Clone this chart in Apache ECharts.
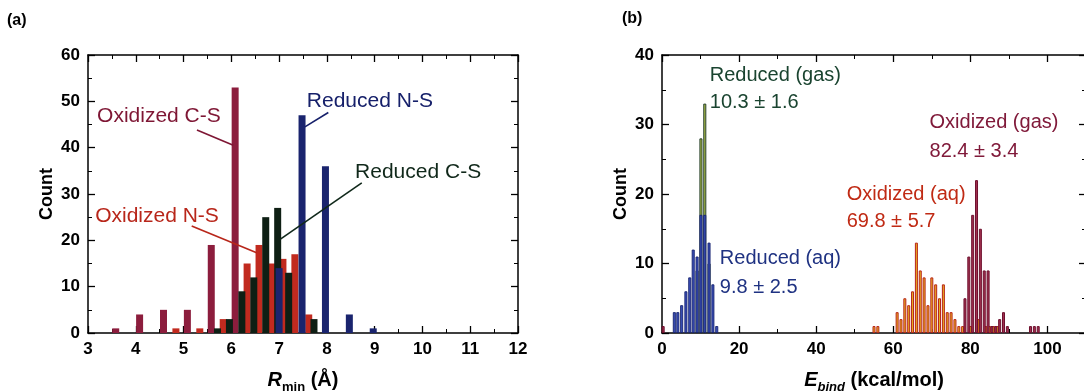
<!DOCTYPE html>
<html><head><meta charset="utf-8">
<script src="https://cdn.jsdelivr.net/npm/echarts@6/dist/echarts.min.js"></script>
<style>html,body{margin:0;padding:0;background:#fff}#c{width:1084px;height:392px}</style>
</head><body><div id="c"></div>
<script>
// ---------- Panel (a): R_min histogram ----------
const aOxCS_x  = [3.58, 4.08, 4.58, 5.08, 5.58, 6.08];
const aOxCS_y  = [1, 4, 5, 5, 19, 53];
const aOxNS_x  = [4.84, 5.34, 5.83, 6.33, 6.58, 6.84, 7.08, 7.33, 7.62];
const aOxNS_y  = [1, 1, 3, 15, 19, 15, 16, 17, 4];
const aRedCS_x = [5.71, 5.96, 6.22, 6.47, 6.72, 6.97, 7.2, 7.73];
const aRedCS_y = [1, 3, 9, 12, 25, 27, 13, 3];
const aRedNS_x = [7.0, 7.48, 7.97, 8.47, 8.97];
const aRedNS_y = [14, 47, 36, 4, 1];

// annotation labels (text, x, y) and leader lines [x1,y1,x2,y2]
const aLabels = [
  ['Oxidized C-S', 3.19, 46.7, '#7E1634'],
  ['Reduced N-S', 7.58, 50.1, '#16206A'],
  ['Reduced C-S', 8.59, 34.8, '#10281A'],
  ['Oxidized N-S', 3.15, 25.3, '#B8261A']
];
const aLeaders = [
  [5.28, 43.8, 6.04, 40.5, '#7E1634'],
  [8.03, 47.6, 7.54, 44.5, '#16206A'],
  [8.73, 32.4, 7.02, 20.2, '#10281A'],
  [5.17, 23.1, 6.53, 17.3, '#B8261A']
];

// ---------- Panel (b): E_bind histogram ----------
const bRedAq_x  = [3.2, 4.1, 5.1, 6.2, 7.2, 8.1, 9.1, 10.1, 11.1, 12.2, 13.2, 14.2];
const bRedAq_y  = [3, 3, 4, 6, 8, 12, 11, 17, 17, 13, 7, 1];
const bRedGas_x = [9.1, 10.1, 11.1, 12.2];
const bRedGas_y = [9, 28, 33, 10];
const bOxAq_x   = [55, 56, 61, 62, 63, 64, 65, 66, 67, 68, 69, 70, 71, 72, 73, 74, 75, 76, 77, 78, 80, 82, 84, 85, 86, 87];
const bOxAq_y   = [1, 1, 3, 2, 5, 4, 6, 13, 9, 8, 4, 8, 7, 5, 7, 3, 3, 2, 1, 1, 1, 2, 1, 1, 1, 1];
const bOxGas_x  = [0.3, 78.6, 79.6, 80.6, 81.6, 82.6, 83.6, 84.6, 85.6, 86.6, 87.6, 88.6, 89.6, 95.6, 96.6, 97.6];
const bOxGas_y  = [1, 5, 11, 17, 22, 15, 9, 9, 1, 1, 2, 3, 1, 1, 1, 1];

const bLabels = [
  ['Reduced (gas)', 12.4, 37.1, '#1A4430'],
  ['10.3 \u00b1 1.6', 12.4, 33.1, '#1A4430'],
  ['Oxidized (gas)', 69.4, 30.3, '#801A3A'],
  ['82.4 \u00b1 3.4', 69.4, 26.1, '#801A3A'],
  ['Oxidized (aq)', 47.9, 20.0, '#C02A14'],
  ['69.8 \u00b1 5.7', 47.9, 16.0, '#C02A14'],
  ['Reduced (aq)', 15.0, 10.7, '#1F3282'],
  ['9.8 \u00b1 2.5', 15.0, 6.6, '#1F3282']
];

const FONT = 'Liberation Sans, Arial, sans-serif';

function bars(xs, ys, xi, yi, w, style) {
  return {
    type: 'bar', xAxisIndex: xi, yAxisIndex: yi, barWidth: w, barGap: '-100%',
    data: xs.map((x, i) => [x, ys[i]]), itemStyle: style, silent: true
  };
}
function labelSeries(list, xi, yi, size) {
  return {
    type: 'scatter', xAxisIndex: xi, yAxisIndex: yi, symbolSize: 0, silent: true, z: 10,
    itemStyle: { opacity: 1 },
    data: list.map(l => ({
      value: [l[1], l[2]],
      label: { show: true, position: [0, 0], align: 'left', verticalAlign: 'middle', opacity: 1,
        formatter: l[0], color: l[3], fontSize: size, fontFamily: FONT }
    }))
  };
}
function leader(l, xi, yi) {
  return {
    type: 'line', xAxisIndex: xi, yAxisIndex: yi, symbol: 'none', silent: true, z: 9,
    data: [[l[0], l[1]], [l[2], l[3]]], lineStyle: { color: l[4], width: 1.6 }
  };
}

const axLine = { show: true, onZero: false, lineStyle: { color: '#000', width: 1.5 } };
const tick = { show: true, inside: true, length: 7, lineStyle: { color: '#000', width: 1.3 } };
const minor = { show: true, splitNumber: 2, length: 4, lineStyle: { color: '#000', width: 1 } };
const lab = { color: '#000', fontSize: 17, fontWeight: 'bold', fontFamily: FONT };

function xAx(grid, min, max, interval, pos, name, rich, showLabel, fmt) {
  return {
    type: 'value', gridIndex: grid, min, max, interval, position: pos,
    axisLine: axLine, axisTick: tick, minorTick: minor, splitLine: { show: false },
    axisLabel: showLabel ? Object.assign({ margin: 8, formatter: fmt }, lab) : { show: false },
    name: name || '', nameLocation: 'middle', nameGap: 34,
    nameTextStyle: { color: '#000', fontSize: 20, fontWeight: 'bold', fontFamily: FONT, rich: rich || {} }
  };
}
function yAx(grid, min, max, interval, pos, name, showLabel) {
  return {
    type: 'value', gridIndex: grid, min, max, interval, position: pos,
    axisLine: axLine, axisTick: tick, minorTick: minor, splitLine: { show: false },
    axisLabel: showLabel ? Object.assign({ margin: 8 }, lab) : { show: false },
    name: name || '', nameLocation: 'middle', nameGap: 32,
    nameTextStyle: { color: '#000', fontSize: 18, fontWeight: 'bold', fontFamily: FONT }
  };
}
const richTitle = {
  i: { fontSize: 20, fontStyle: 'italic', fontWeight: 'bold', fontFamily: FONT, color: '#000' },
  s: { fontSize: 13, fontWeight: 'bold', fontFamily: FONT, color: '#000', padding: [14, 0, 0, 0] },
  n: { fontSize: 20, fontWeight: 'bold', fontFamily: FONT, color: '#000' }
};
const richTitleB = {
  i: richTitle.i, n: richTitle.n,
  s: { fontSize: 13, fontWeight: 'bold', fontStyle: 'italic', fontFamily: FONT, color: '#000', padding: [14, 0, 0, 0] }
};

const option = {
  animation: false,
  backgroundColor: '#fff',
  title: [
    { text: '(a)', left: 7, top: 13, padding: 0, textStyle: { fontSize: 16, fontWeight: 'bold', fontFamily: FONT, color: '#000' } },
    { text: '(b)', left: 622, top: 11, padding: 0, textStyle: { fontSize: 16, fontWeight: 'bold', fontFamily: FONT, color: '#000' } }
  ],
  grid: [
    { left: 88, top: 55, width: 430, height: 278, outerBoundsMode: 'none', containLabel: false },
    { left: 662, top: 55, width: 424, height: 278, outerBoundsMode: 'none', containLabel: false }
  ],
  xAxis: [
    xAx(0, 3, 12, 1, 'bottom', '{i|R}{s|min}{n| (\u00c5)}', richTitle, true),
    xAx(0, 3, 12, 1, 'top', '', null, false),
    xAx(1, 0, 110, 20, 'bottom', '{i|E}{s|bind}{n| (kcal/mol)}', richTitleB, true, v => (v > 100 ? '' : v)),
    xAx(1, 0, 110, 20, 'top', '', null, false)
  ],
  yAxis: [
    yAx(0, 0, 60, 10, 'left', 'Count', true),
    yAx(0, 0, 60, 10, 'right', '', false),
    yAx(1, 0, 40, 10, 'left', 'Count', true),
    yAx(1, 0, 40, 10, 'right', '', false)
  ],
  series: [
    bars(aOxCS_x, aOxCS_y, 0, 0, 7, { color: '#8C1D3D' }),
    bars(aOxNS_x, aOxNS_y, 0, 0, 7, { color: '#C12A1F' }),
    bars(aRedCS_x, aRedCS_y, 0, 0, 7, { color: '#0E1F14' }),
    bars(aRedNS_x, aRedNS_y, 0, 0, 7, { color: '#1A246E' }),
    ...aLeaders.map(l => leader(l, 0, 0)),
    labelSeries(aLabels, 0, 0, 21),

    bars(bRedGas_x, bRedGas_y, 2, 2, 3, { color: '#A8B848', borderColor: '#1A3424', borderWidth: 0.9 }),
    bars(bRedAq_x, bRedAq_y, 2, 2, 3, { color: '#3A4FB8', borderColor: '#16226E', borderWidth: 0.9 }),
    bars(bOxAq_x, bOxAq_y, 2, 2, 3, { color: '#E8B020', borderColor: '#B8241A', borderWidth: 1 }),
    bars(bOxGas_x, bOxGas_y, 2, 2, 3, { color: '#A0304F', borderColor: '#6E102E', borderWidth: 1 }),
    labelSeries(bLabels, 2, 2, 20)
  ]
};
const chart = echarts.init(document.getElementById('c'), null, { renderer: 'canvas' });
chart.setOption(option);
</script></body></html>
